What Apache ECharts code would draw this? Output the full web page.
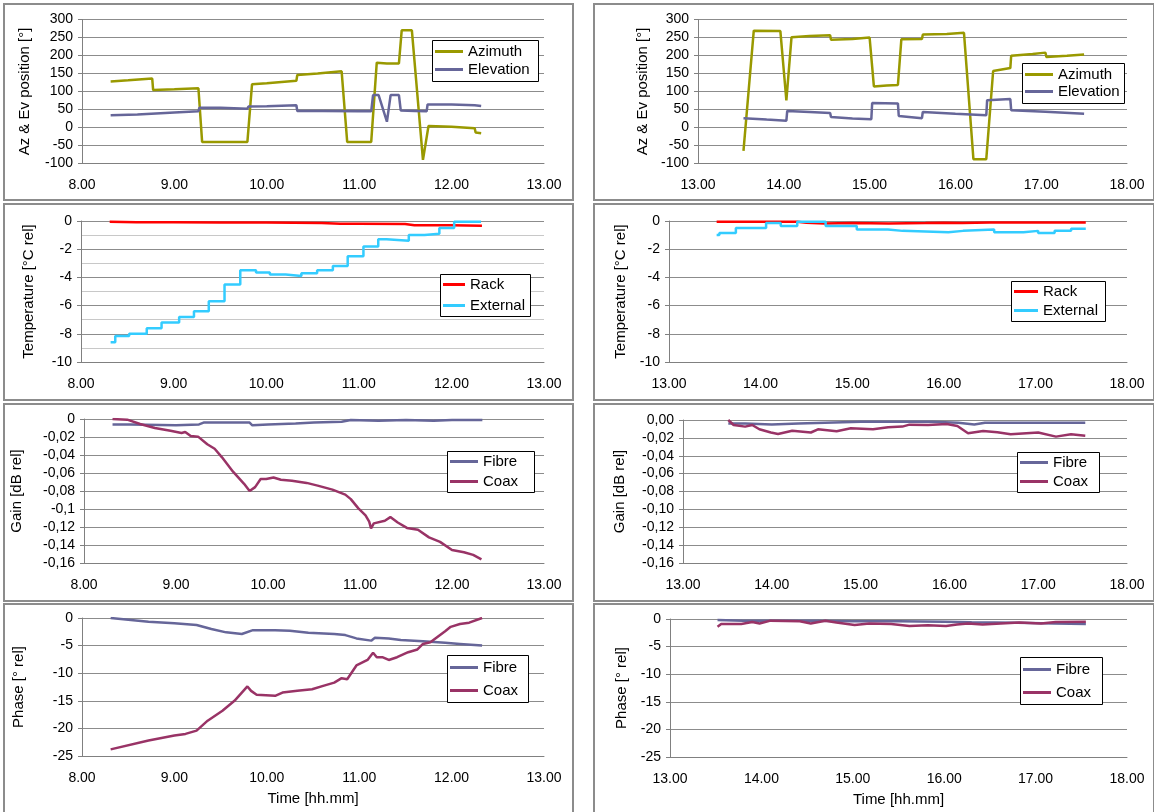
<!DOCTYPE html>
<html>
<head>
<meta charset="utf-8">
<script src="https://cdn.jsdelivr.net/npm/echarts@6/dist/echarts.min.js"></script>
<style>
html, body { margin: 0; padding: 0; background: #fff; }
#chart { width: 1154px; height: 812px; }
</style>
</head>
<body>
<div id="chart"></div>
<script>
// ---- data: [time in hours, value] ----
const azimuthAM = [[8.31,128],[8.50,131],[8.76,136],[8.77,104],[9.00,106],[9.26,109],[9.30,-40],[9.55,-40],[9.79,-40],[9.84,120],[10.00,123],[10.32,130],[10.33,146],[10.55,150],[10.81,156],[10.87,-40],[11.13,-40],[11.19,180],[11.30,178],[11.43,178],[11.46,270],[11.57,270],[11.69,-90],[11.75,4],[12.00,2],[12.25,-2],[12.26,-14],[12.32,-16]];
const elevationAM = [[8.31,34],[8.60,36],[9.00,42],[9.26,45],[9.27,55],[9.50,55],[9.79,52],[9.80,58],[10.00,59],[10.32,62],[10.33,46],[10.60,46],[11.00,45],[11.13,45],[11.15,90],[11.21,90],[11.30,16],[11.34,90],[11.43,90],[11.45,47],[11.60,46],[11.73,45],[11.74,64],[12.00,64],[12.25,62],[12.27,60],[12.32,60]];
const azimuthPM = [[13.53,-65],[13.65,269],[13.96,268],[14.03,75],[14.09,251],[14.30,254],[14.54,256],[14.55,244],[14.80,246],[15.00,250],[15.05,114],[15.20,117],[15.33,118],[15.37,245],[15.61,246],[15.62,258],[15.90,260],[16.10,263],[16.21,-88],[16.36,-88],[16.44,157],[16.64,165],[16.65,199],[16.90,204],[17.05,208],[17.06,196],[17.30,199],[17.50,203]];
const elevationPM = [[13.53,26],[13.80,22],[14.03,19],[14.04,46],[14.30,43],[14.54,40],[14.55,29],[14.80,25],[15.02,23],[15.03,68],[15.33,67],[15.34,32],[15.61,26],[15.62,43],[16.00,38],[16.36,34],[16.37,76],[16.64,79],[16.65,48],[17.05,44],[17.06,39],[17.50,38]];

const rackAM = [[8.31,-0.05],[8.60,-0.08],[9.00,-0.08],[9.50,-0.10],[10.00,-0.10],[10.30,-0.12],[10.60,-0.15],[10.80,-0.20],[11.00,-0.20],[11.50,-0.22],[11.60,-0.30],[12.00,-0.30],[12.33,-0.33]];
const externalAM = [[8.32,-8.6],[8.37,-8.15],[8.52,-8.0],[8.71,-7.6],[8.87,-7.2],[9.06,-6.8],[9.22,-6.4],[9.38,-5.7],[9.55,-4.5],[9.72,-3.5],[9.89,-3.65],[10.04,-3.8],[10.21,-3.9],[10.38,-3.7],[10.55,-3.5],[10.72,-3.2],[10.88,-2.5],[11.05,-1.8],[11.21,-1.3],[11.30,-1.4],[11.54,-1.0],[11.71,-0.9],[11.87,-0.5],[12.03,-0.05],[12.32,-0.05]];
const rackPM = [[13.52,-0.05],[14.00,-0.05],[14.40,-0.05],[14.50,-0.12],[14.70,-0.18],[15.00,-0.15],[15.40,-0.18],[15.80,-0.15],[16.00,-0.12],[16.20,-0.15],[16.50,-0.10],[17.00,-0.10],[17.55,-0.10]];
const externalPM = [[13.52,-1.0],[13.55,-0.85],[13.73,-0.5],[14.06,-0.15],[14.22,-0.35],[14.40,-0.05],[14.71,-0.35],[15.05,-0.6],[15.39,-0.7],[15.55,-0.8],[16.05,-0.7],[16.21,-0.6],[16.55,-0.8],[16.87,-0.7],[17.03,-0.85],[17.21,-0.7],[17.39,-0.55],[17.55,-0.55]];

const fibreGainAM = [[8.31,-0.006],[8.50,-0.006],[9.00,-0.007],[9.25,-0.006],[9.30,-0.004],[9.60,-0.004],[9.80,-0.004],[9.83,-0.007],[10.00,-0.006],[10.30,-0.005],[10.50,-0.004],[10.80,-0.003],[10.90,-0.001],[11.20,-0.002],[11.50,-0.001],[11.80,-0.002],[12.00,-0.001],[12.33,-0.001]];
const coaxGainAM = [[8.31,0],[8.47,-0.0007],[8.61,-0.0055],[8.77,-0.010],[8.94,-0.013],[9.06,-0.0155],[9.10,-0.0144],[9.16,-0.019],[9.24,-0.0196],[9.34,-0.028],[9.42,-0.033],[9.50,-0.0426],[9.62,-0.0585],[9.74,-0.072],[9.80,-0.080],[9.82,-0.0815],[9.86,-0.0757],[9.92,-0.0667],[9.98,-0.0667],[10.06,-0.065],[10.14,-0.0675],[10.26,-0.0685],[10.42,-0.071],[10.54,-0.074],[10.70,-0.0785],[10.84,-0.084],[10.90,-0.089],[10.98,-0.099],[11.06,-0.107],[11.10,-0.114],[11.12,-0.1215],[11.15,-0.116],[11.27,-0.113],[11.33,-0.109],[11.41,-0.115],[11.51,-0.121],[11.63,-0.123],[11.75,-0.1315],[11.87,-0.1365],[12.00,-0.1455],[12.13,-0.148],[12.23,-0.151],[12.32,-0.156]];
const fibreGainPM = [[13.51,-0.004],[13.70,-0.004],[14.00,-0.005],[14.30,-0.004],[14.60,-0.003],[15.00,-0.002],[15.40,-0.002],[15.80,-0.002],[16.10,-0.003],[16.28,-0.005],[16.40,-0.003],[16.80,-0.003],[17.20,-0.003],[17.53,-0.003]];
const coaxGainPM = [[13.51,0],[13.57,-0.0056],[13.70,-0.0074],[13.78,-0.0056],[13.86,-0.0104],[13.99,-0.014],[14.07,-0.0156],[14.23,-0.012],[14.44,-0.014],[14.52,-0.0104],[14.73,-0.0126],[14.89,-0.0093],[15.14,-0.0104],[15.31,-0.008],[15.47,-0.0074],[15.55,-0.0052],[15.76,-0.0056],[15.97,-0.0045],[16.09,-0.0067],[16.21,-0.0149],[16.38,-0.0123],[16.54,-0.0138],[16.69,-0.016],[17.00,-0.014],[17.20,-0.0186],[17.37,-0.016],[17.53,-0.0175]];

const fibrePhaseAM = [[8.31,0],[8.72,-0.66],[9.00,-0.97],[9.24,-1.27],[9.40,-2.0],[9.56,-2.6],[9.73,-2.9],[9.85,-2.2],[10.09,-2.2],[10.25,-2.3],[10.45,-2.66],[10.73,-2.9],[10.85,-3.1],[10.97,-3.7],[11.13,-4.1],[11.17,-3.6],[11.32,-3.7],[11.45,-4.0],[11.69,-4.2],[11.93,-4.5],[12.09,-4.7],[12.33,-5.0]];
const coaxPhaseAM = [[8.31,-23.8],[8.72,-22.2],[9.00,-21.3],[9.12,-21.0],[9.24,-20.4],[9.36,-18.6],[9.52,-16.8],[9.65,-15.0],[9.79,-12.4],[9.83,-13.2],[9.89,-13.9],[10.09,-14.1],[10.17,-13.5],[10.33,-13.2],[10.49,-12.9],[10.61,-12.3],[10.73,-11.7],[10.81,-10.9],[10.87,-11.1],[10.97,-8.6],[11.09,-7.6],[11.15,-6.3],[11.19,-7.1],[11.25,-7.1],[11.32,-7.6],[11.41,-7.1],[11.53,-6.2],[11.63,-5.7],[11.69,-4.7],[11.77,-4.4],[11.85,-3.4],[11.93,-2.4],[11.99,-1.6],[12.09,-1.1],[12.19,-0.85],[12.33,0]];
const fibrePhasePM = [[13.52,-0.2],[13.80,-0.3],[14.20,-0.3],[14.60,-0.3],[15.00,-0.4],[15.50,-0.4],[16.00,-0.5],[16.30,-0.6],[16.80,-0.7],[17.20,-0.8],[17.55,-0.9]];
const coaxPhasePM = [[13.52,-1.4],[13.56,-0.9],[13.78,-0.9],[13.90,-0.55],[13.98,-0.8],[14.10,-0.3],[14.42,-0.4],[14.54,-0.8],[14.70,-0.3],[14.82,-0.65],[15.02,-1.1],[15.18,-0.8],[15.42,-0.9],[15.62,-1.25],[15.82,-1.15],[16.02,-1.25],[16.14,-1.0],[16.26,-0.8],[16.42,-1.0],[16.62,-0.8],[16.82,-0.65],[17.06,-0.8],[17.22,-0.55],[17.55,-0.5]];

// ---- layout ----
const FONT = 'Liberation Sans, Arial, sans-serif';
const colors = {
  azimuth: '#999900', elevation: '#666699',
  rack: '#ff0000', external: '#33ccff',
  fibre: '#666699', coax: '#993366'
};

const panels = [
  { grid: { left: 82, top: 19.5, width: 462, height: 144 }, x: [8, 13], y: [-100, 300, 50], name: 'Az & Ev position [°]', gap: 50,
    series: [['Azimuth', azimuthAM, colors.azimuth], ['Elevation', elevationAM, colors.elevation]],
    box: [432, 40, 106, 41], legendTop: 43, legendGap: 1, icon: 28 },
  { grid: { left: 698, top: 19.5, width: 429, height: 144 }, x: [13, 18], y: [-100, 300, 50], name: 'Az & Ev position [°]', gap: 48,
    series: [['Azimuth', azimuthPM, colors.azimuth], ['Elevation', elevationPM, colors.elevation]],
    box: [1022, 63, 102, 40], legendTop: 66, legendGap: 0, icon: 28 },
  { grid: { left: 81, top: 221, width: 463, height: 141 }, x: [8, 13], y: [-10, 0, 2], name: 'Temperature [°C rel]', gap: 45, minor: true,
    series: [['Rack', rackAM, colors.rack], ['External', externalAM, colors.external, 'end']],
    box: [440, 274, 90, 42], legendTop: 276, legendGap: 4, icon: 22 },
  { grid: { left: 669, top: 221, width: 458, height: 141 }, x: [13, 18], y: [-10, 0, 2], name: 'Temperature [°C rel]', gap: 41,
    series: [['Rack', rackPM, colors.rack], ['External', externalPM, colors.external, 'end']],
    box: [1011, 281, 94, 40], legendTop: 283, legendGap: 2, icon: 24 },
  { grid: { left: 84, top: 419, width: 460, height: 144 }, x: [8, 13], y: [-0.16, 0, 0.02], name: 'Gain [dB rel]', gap: 60,
    fmt: v => (Math.abs(v) < 1e-9 ? '0' : v.toFixed(2).replace(/0$/, '').replace('.', ',')),
    series: [['Fibre', fibreGainAM, colors.fibre], ['Coax', coaxGainAM, colors.coax]],
    box: [447, 451, 87, 41], legendTop: 453, legendGap: 3, icon: 28 },
  { grid: { left: 683, top: 420, width: 444, height: 143 }, x: [13, 18], y: [-0.16, 0, 0.02], name: 'Gain [dB rel]', gap: 56,
    fmt: v => (Math.abs(v) < 1e-9 ? '0,00' : v.toFixed(2).replace('.', ',')),
    series: [['Fibre', fibreGainPM, colors.fibre], ['Coax', coaxGainPM, colors.coax]],
    box: [1017, 452, 82, 40], legendTop: 454, legendGap: 2, icon: 28 },
  { grid: { left: 82, top: 618, width: 462, height: 138 }, x: [8, 13], y: [-25, 0, 5], name: 'Phase [° rel]', gap: 56, time: true,
    series: [['Fibre', fibrePhaseAM, colors.fibre], ['Coax', coaxPhaseAM, colors.coax]],
    box: [447, 655, 81, 47], legendTop: 659, legendGap: 6, icon: 28 },
  { grid: { left: 670, top: 619, width: 457, height: 138 }, x: [13, 18], y: [-25, 0, 5], name: 'Phase [° rel]', gap: 41, time: true,
    series: [['Fibre', fibrePhasePM, colors.fibre], ['Coax', coaxPhasePM, colors.coax]],
    box: [1020, 657, 82, 47], legendTop: 661, legendGap: 6, icon: 28 }
];

const panelFrames = [
  [4, 4, 569, 196], [594, 4, 560, 196],
  [4, 204, 569, 196], [594, 204, 560, 196],
  [4, 404, 569, 197], [594, 404, 560, 197],
  [4, 604, 569, 210], [594, 604, 560, 210]
];

const grids = [], xAxes = [], yAxes = [], series = [], legends = [], graphics = [];

panelFrames.forEach(f => {
  graphics.push({ type: 'rect', z: 0, shape: { x: f[0], y: f[1], width: f[2], height: f[3] },
    style: { fill: null, stroke: '#8c8c8c', lineWidth: 2 } });
});

panels.forEach((p, i) => {
  grids.push(p.grid);
  xAxes.push({
    type: 'value', gridIndex: i, min: p.x[0], max: p.x[1], interval: 1,
    axisLine: { show: true, onZero: false, lineStyle: { color: '#808080' } },
    axisTick: { show: false },
    splitLine: { show: false },
    axisLabel: { color: '#000', fontSize: 14, fontFamily: FONT, margin: 15, formatter: v => v.toFixed(2) },
    name: p.time ? 'Time [hh.mm]' : '', nameLocation: 'middle', nameGap: 35,
    nameTextStyle: { color: '#000', fontSize: 15, fontFamily: FONT }
  });
  yAxes.push({
    type: 'value', gridIndex: i, min: p.y[0], max: p.y[1], interval: p.y[2],
    axisLine: { show: true, onZero: false, lineStyle: { color: '#808080' } },
    axisTick: { show: true, length: 4, lineStyle: { color: '#808080' } },
    splitLine: { show: true, lineStyle: { color: '#8c8c8c', width: 1 } },
    minorTick: { show: false, splitNumber: 2 },
    minorSplitLine: { show: !!p.minor, lineStyle: { color: '#c8c8c8', width: 1 } },
    axisLabel: { color: '#000', fontSize: 14, fontFamily: FONT, margin: 9, formatter: p.fmt || (v => String(Math.round(v))) },
    name: p.name, nameLocation: 'middle', nameGap: p.gap,
    nameTextStyle: { color: '#000', fontSize: 15, fontFamily: FONT }
  });
  p.series.forEach(s => {
    series.push({
      name: s[0], type: 'line', xAxisIndex: i, yAxisIndex: i, data: s[1],
      symbol: 'none', step: s[3] || false, animation: false,
      lineStyle: { color: s[2], width: 2.5 }, itemStyle: { color: s[2] }
    });
  });
  graphics.push({ type: 'rect', z: 5, shape: { x: p.box[0] + 0.5, y: p.box[1] + 0.5, width: p.box[2], height: p.box[3] },
    style: { fill: '#fff', stroke: '#000', lineWidth: 1 } });
  legends.push({
    orient: 'vertical', left: p.box[0] + 3, top: p.legendTop, z: 10, padding: 0,
    icon: 'rect', itemWidth: p.icon, itemHeight: 3, itemGap: p.legendGap,
    selectedMode: false,
    textStyle: { color: '#000', fontSize: 15, fontFamily: FONT, lineHeight: 17 },
    data: p.series.map(s => s[0])
  });
});

const chart = echarts.init(document.getElementById('chart'), null, { renderer: 'canvas' });
chart.setOption({
  backgroundColor: '#fff',
  animation: false,
  grid: grids,
  xAxis: xAxes,
  yAxis: yAxes,
  legend: legends,
  graphic: graphics,
  series: series
});
</script>
</body>
</html>
